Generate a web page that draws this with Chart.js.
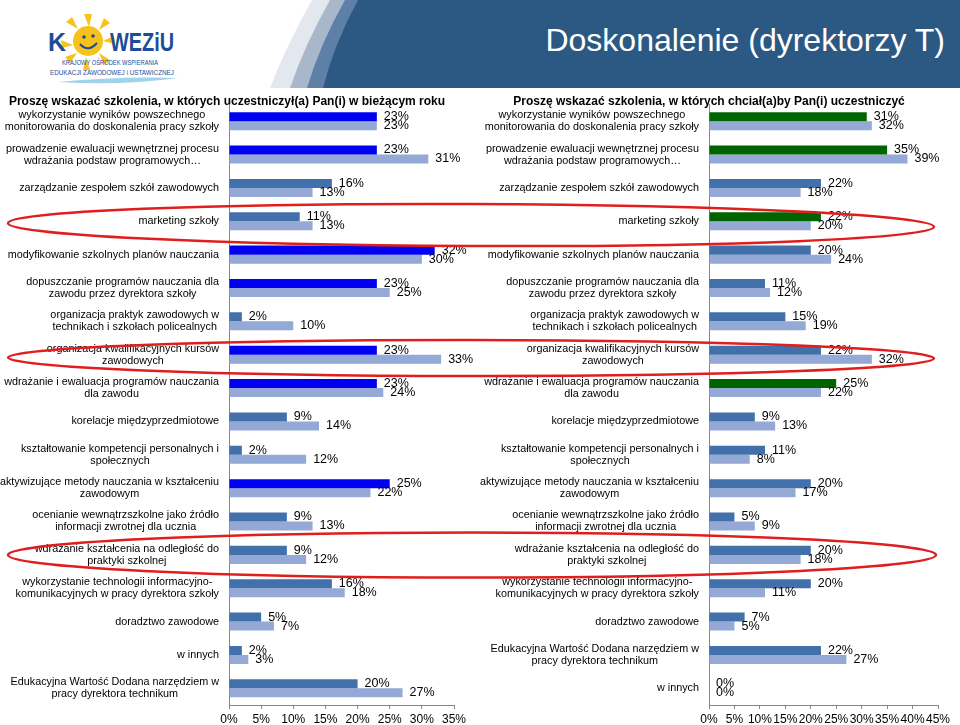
<!DOCTYPE html>
<html>
<head>
<meta charset="utf-8">
<script src="https://cdn.jsdelivr.net/npm/chart.js@4.4.1/dist/chart.umd.min.js"></script>
<style>
  body { margin: 0; width: 960px; height: 725px; overflow: hidden; background: #fff; position: relative;
         font-family: "Liberation Sans", Arial, sans-serif; }
  #head { position: absolute; left: 0; top: 0; }
  #c1 { position: absolute; left: 0; top: 90px; }
  #c2 { position: absolute; left: 480px; top: 90px; }
  #marks { position: absolute; left: 0; top: 0; pointer-events: none; }
</style>
</head>
<body>
<svg id="head" width="960" height="90">
  <path d="M312 0 Q 287 44 270 88 L 960 88 L 960 0 Z" fill="#E3E8EE"/>
  <path d="M330 0 Q 305 44 290 88 L 960 88 L 960 0 Z" fill="#A8B8CA"/>
  <path d="M345 0 Q 320 44 307 88 L 960 88 L 960 0 Z" fill="#5F80A6"/>
  <path d="M358 0 Q 334 44 323 88 L 960 88 L 960 0 Z" fill="#2B5983"/>
  <text x="945" y="51" text-anchor="end" font-size="32" fill="#fff" font-family="Liberation Sans, Arial">Doskonalenie (dyrektorzy T)</text>
  <!-- logo -->
  <g fill="#F8C21C">
    <circle cx="88" cy="41" r="15"/>
    <path d="M84 14 L92 14 L89 27 Z"/>
    <path d="M104 18 L110 23 L99 30 Z"/>
    <path d="M114 36 L115 44 L103 41 Z"/>
    <path d="M110 60 L104 65 L99 53 Z"/>
    <path d="M66 22 L72 17 L78 29 Z"/>
    <path d="M61 40 L62 48 L73 45 Z"/>
    <path d="M70 63 L65 57 L77 53 Z"/>
    <path d="M90 70 L83 70 L86 57 Z"/>
  </g>
  <path d="M80 44 Q 88 53 97 43" stroke="#1E4C9A" stroke-width="2" fill="none"/>
  <circle cx="84" cy="37" r="1.8" fill="#1E4C9A"/>
  <circle cx="93" cy="36" r="1.8" fill="#1E4C9A"/>
  <text x="48" y="51" font-size="25" font-weight="bold" fill="#1E4C9A" font-family="Liberation Sans, Arial" textLength="18" lengthAdjust="spacingAndGlyphs">K</text>
  <text x="110" y="51" font-size="25" font-weight="bold" fill="#1E4C9A" font-family="Liberation Sans, Arial" textLength="64" lengthAdjust="spacingAndGlyphs">WEZiU</text>
  <text x="62" y="65" font-size="7" fill="#1E4C9A" font-family="Liberation Sans, Arial" textLength="96" lengthAdjust="spacingAndGlyphs">KRAJOWY OŚRODEK WSPIERANIA</text>
  <text x="50" y="75" font-size="7" fill="#1E4C9A" font-family="Liberation Sans, Arial" textLength="124" lengthAdjust="spacingAndGlyphs">EDUKACJI ZAWODOWEJ i USTAWICZNEJ</text>
  <path d="M58 82 Q 120 76 178 78 Q 120 86 58 82 Z" fill="#9FD3EA"/>
</svg>
<canvas id="c1" width="480" height="635"></canvas>
<canvas id="c2" width="480" height="635"></canvas>
<canvas id="marks" width="960" height="725"></canvas>
<script>
// --- data ---
var leftLabels = [
  ['wykorzystanie wyników powszechnego', 'monitorowania do doskonalenia pracy szkoły'],
  ['prowadzenie ewaluacji wewnętrznej procesu', 'wdrażania podstaw programowych…'],
  'zarządzanie zespołem szkół zawodowych',
  'marketing szkoły',
  'modyfikowanie szkolnych planów nauczania',
  ['dopuszczanie programów nauczania dla', 'zawodu przez dyrektora szkoły'],
  ['organizacja praktyk zawodowych w', 'technikach i szkołach policealnych'],
  ['organizacja kwalifikacyjnych kursów', 'zawodowych'],
  ['wdrażanie i ewaluacja programów nauczania', 'dla zawodu'],
  'korelacje międzyprzedmiotowe',
  ['kształtowanie kompetencji personalnych i', 'społecznych'],
  ['aktywizujące metody nauczania w kształceniu', 'zawodowym'],
  ['ocenianie wewnątrzszkolne jako źródło', 'informacji zwrotnej dla ucznia'],
  ['wdrażanie kształcenia na odległość do', 'praktyki szkolnej'],
  ['wykorzystanie technologii informacyjno-', 'komunikacyjnych w pracy dyrektora szkoły'],
  'doradztwo zawodowe',
  'w innych',
  ['Edukacyjna Wartość Dodana narzędziem w', 'pracy dyrektora technikum']
];
var leftA = [23, 23, 16, 11, 32, 23, 2, 23, 23, 9, 2, 25, 9, 9, 16, 5, 2, 20];
var leftB = [23, 31, 13, 13, 30, 25, 10, 33, 24, 14, 12, 22, 13, 12, 18, 7, 3, 27];

var rightLabels = leftLabels.slice(0, 16).concat([leftLabels[17], leftLabels[16]]);
var rightA = [31, 35, 22, 22, 20, 11, 15, 22, 25, 9, 11, 20, 5, 20, 20, 7, 22, 0];
var rightB = [32, 39, 18, 20, 24, 12, 19, 32, 22, 13, 8, 17, 9, 18, 11, 5, 27, 0];

var leftTicks = [0, 5, 10, 15, 20, 25, 30, 35];
var rightTicks = [0, 5, 10, 15, 20, 25, 30, 35, 40, 45];

// highlighted bars (1 = strong colour)
var leftHi = [1, 1, 0, 0, 1, 1, 0, 1, 1, 0, 0, 1, 0, 0, 0, 0, 0, 0];
var rightHi = [1, 1, 0, 1, 0, 0, 0, 0, 1, 0, 0, 0, 0, 0, 0, 0, 0, 0];

var FONT = '"Liberation Sans", Arial, sans-serif';
var STEEL = '#4170AA';
var LIGHT = '#94A9D5';

var catLabels = {
  id: 'catLabels',
  afterDraw: function(chart) {
    var ctx = chart.ctx;
    var ys = chart.scales.y;
    var right = chart.chartArea.left - 10;
    ctx.save();
    ctx.font = '10.8px ' + FONT;
    ctx.fillStyle = '#000';
    ctx.textAlign = 'center';
    ctx.textBaseline = 'middle';
    chart.data.labels.forEach(function(lab, i) {
      var lines = [].concat(lab);
      var w = Math.max.apply(null, lines.map(function(l) { return ctx.measureText(l).width; }));
      var y0 = ys.getPixelForTick(i) - (lines.length - 1) * 12 / 2;
      lines.forEach(function(l, j) { ctx.fillText(l, right - w / 2, y0 + j * 12); });
    });
    ctx.restore();
  }
};

var valueLabels = {
  id: 'valueLabels',
  afterDatasetsDraw: function(chart) {
    var ctx = chart.ctx;
    ctx.save();
    ctx.font = '12.5px ' + FONT;
    ctx.fillStyle = '#000';
    ctx.textAlign = 'left';
    ctx.textBaseline = 'middle';
    chart.data.datasets.forEach(function(ds, di) {
      chart.getDatasetMeta(di).data.forEach(function(bar, i) {
        ctx.fillText(ds.data[i] + '%', bar.x + 7, bar.y);
      });
    });
    ctx.restore();
  }
};

function makeChart(id, labels, a, b, hi, strong, ticks, title, padRight) {
  var max = ticks[ticks.length - 1];
  return new Chart(document.getElementById(id), {
    type: 'bar',
    data: {
      labels: labels,
      datasets: [
        { label: 'Seria 1', data: a, backgroundColor: hi.map(function(h) { return h ? strong : STEEL; }) },
        { label: 'Seria 2', data: b, backgroundColor: LIGHT }
      ]
    },
    options: {
      indexAxis: 'y',
      responsive: false,
      animation: false,
      datasets: { bar: { categoryPercentage: 0.54, barPercentage: 1 } },
      layout: { padding: { left: 0, right: padRight, top: 0, bottom: 0 } },
      plugins: {
        legend: { display: false },
        tooltip: { enabled: false },
        title: {
          display: true, text: title, color: '#000',
          font: { family: FONT, size: 12, weight: 'bold' },
          padding: { top: 4.8, bottom: -4.7 }
        }
      },
      scales: {
        x: {
          min: 0, max: max,
          afterBuildTicks: function(s) { s.ticks = ticks.map(function(v) { return { value: v }; }); },
          ticks: { callback: function(v) { return v + '%'; }, color: '#000', font: { family: FONT, size: 12 },
                   autoSkip: false, maxRotation: 0, padding: 3 },
          grid: { drawOnChartArea: false, tickLength: 4, color: '#868686' },
          border: { color: '#868686' },
          afterFit: function(s) { s.height = 20; }
        },
        y: {
          ticks: { display: false },
          grid: { display: false },
          border: { color: '#868686' },
          afterFit: function(s) { s.width = 229; }
        }
      }
    },
    plugins: [catLabels, valueLabels]
  });
}

makeChart('c1', leftLabels, leftA, leftB, leftHi, '#0000F0', leftTicks,
  'Proszę wskazać szkolenia, w których uczestniczył(a) Pan(i) w bieżącym roku', 26);
makeChart('c2', rightLabels, rightA, rightB, rightHi, '#006400', rightTicks,
  'Proszę wskazać szkolenia, w których chciał(a)by Pan(i) uczestniczyć', 22);

// red hand-drawn highlight rings
var m = document.getElementById('marks').getContext('2d');
m.strokeStyle = '#E01E1E';
m.lineWidth = 2.5;
[[471, 225, 463, 21, 0.004], [471, 358, 463, 18, 0.001], [472, 555, 464, 22.5, 0]].forEach(function(e) {
  m.beginPath();
  m.ellipse(e[0], e[1], e[2], e[3], e[4], 0, Math.PI * 2);
  m.stroke();
});
</script>
</body>
</html>
